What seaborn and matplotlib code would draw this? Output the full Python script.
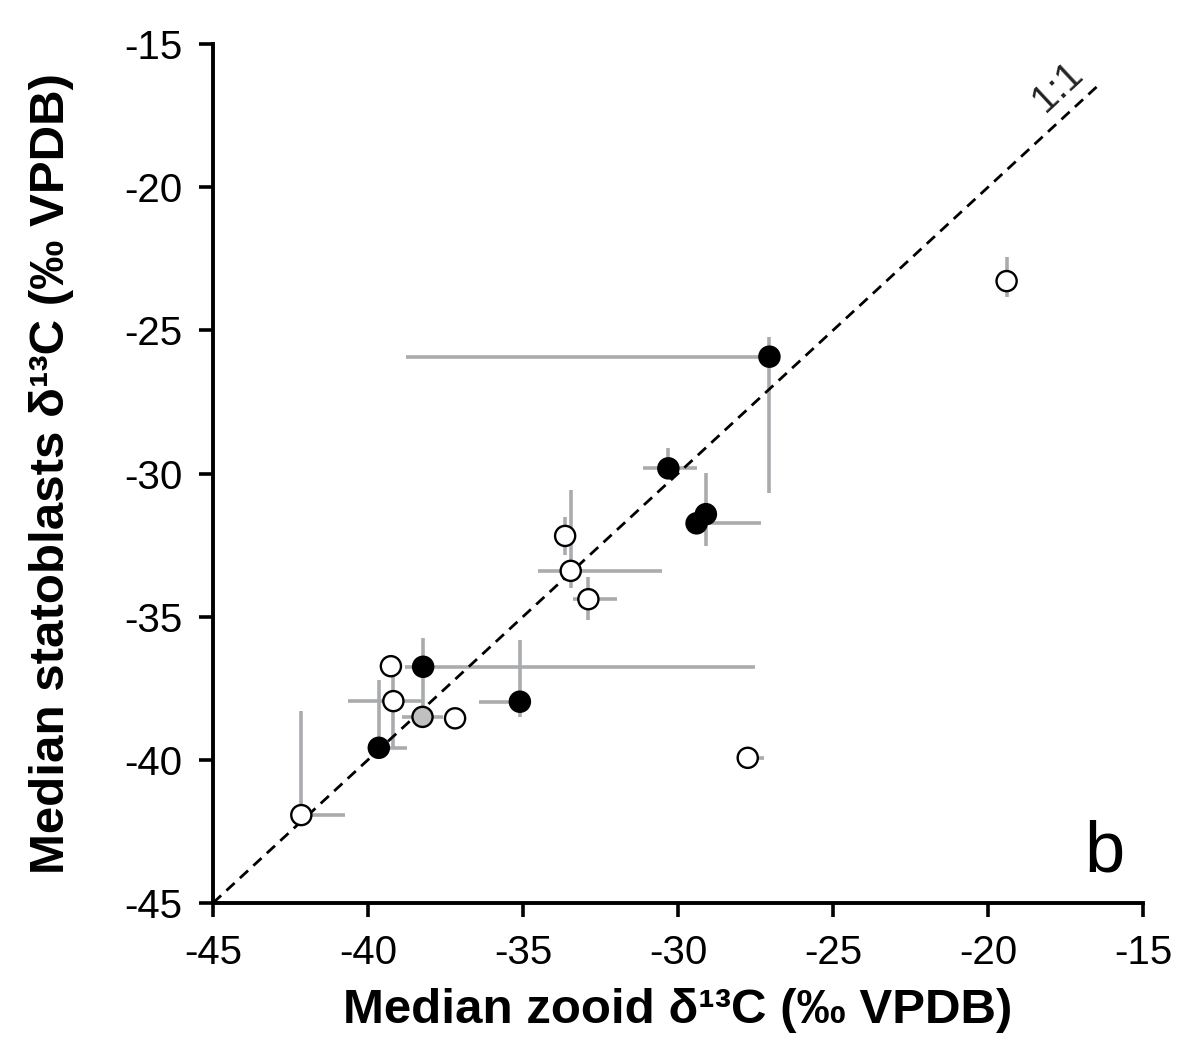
import numpy as np
import pandas as pd
import matplotlib
matplotlib.use("Agg")
import matplotlib.pyplot as plt
import seaborn as sns

# --------------------------------------------------------------
# data (medians + ranges, per mille VPDB)
# --------------------------------------------------------------
kind = ['open', 'filled', 'open', 'open', 'filled', 'gray', 'open', 'filled', 'open',
        'open', 'open', 'filled', 'filled', 'filled', 'filled', 'open', 'open']
zooid = [-42.15, -39.65, -39.18, -39.26, -38.22, -38.24, -37.19, -35.10, -33.64,
         -33.46, -32.89, -30.31, -29.10, -29.40, -27.05, -27.75, -19.40]
stato = [-41.93, -39.58, -37.95, -36.73, -36.75, -38.50, -38.55, -37.97, -32.18,
         -33.40, -34.39, -29.82, -31.42, -31.74, -25.92, -39.93, -23.28]
zooid_lo = [-42.20, -39.65, -40.65, -39.26, -38.80, -38.90, -37.19, -36.42, -33.64,
            -34.50, -33.38, -31.12, -29.10, -29.74, -38.77, -27.75, -19.40]
zooid_hi = [-40.75, -38.75, -38.27, -39.26, -27.50, -37.57, -37.19, -35.10, -33.64,
            -30.53, -31.98, -29.40, -29.10, -27.33, -27.05, -27.21, -19.40]
stato_lo = [-42.20, -39.60, -39.60, -36.73, -38.50, -38.50, -38.90, -38.50, -32.85,
            -34.00, -35.12, -29.88, -32.53, -31.74, -30.68, -39.93, -23.83]
stato_hi = [-38.30, -37.20, -36.80, -36.73, -35.75, -38.50, -38.30, -35.82, -31.51,
            -30.58, -33.60, -29.12, -29.99, -31.74, -25.22, -39.93, -22.43]

one_to_one = [-45, -16.4]
ticks = [-45, -40, -35, -30, -25, -20, -15]

df = pd.DataFrame({'kind': kind, 'zooid': zooid, 'stato': stato,
                   'zlo': zooid_lo, 'zhi': zooid_hi, 'slo': stato_lo, 'shi': stato_hi})

# --------------------------------------------------------------
# plot
# --------------------------------------------------------------
sns.set_style('white')
plt.rcParams['font.family'] = ['Liberation Sans', 'DejaVu Sans']
plt.rcParams['axes.unicode_minus'] = False
plt.rcParams['text.color'] = 'black'
plt.rcParams['axes.labelcolor'] = 'black'

fig = plt.figure(figsize=(11.91, 10.56), dpi=100)
ax = fig.add_axes([0.1788, 0.1449, 0.7809, 0.8134])

bar_col = '#a9abae'
ax.hlines(df['stato'], df['zlo'], df['zhi'], color=bar_col, lw=2.6, zorder=1)
ax.vlines(df['zooid'], df['slo'], df['shi'], color=bar_col, lw=2.6, zorder=1)

ax.plot(one_to_one, one_to_one, color='black', lw=2.0, ls=(0, (4, 2.6)), zorder=2)

sns.scatterplot(data=df, x='zooid', y='stato', hue='kind',
                palette={'filled': 'black', 'open': 'white', 'gray': '#c0c0c0'},
                s=210, edgecolor='black', linewidth=1.7, legend=False, ax=ax, zorder=3)

ax.set_xlim(-45, -15)
ax.set_ylim(-45, -15)
ax.set_xticks(ticks)
ax.set_yticks(ticks)
for side in ['top', 'right']:
    ax.spines[side].set_visible(False)
for side in ['left', 'bottom']:
    ax.spines[side].set_linewidth(2.8)
    ax.spines[side].set_color('black')
ax.tick_params(axis='both', which='major', direction='out', length=10, width=2.6,
               labelsize=29, colors='black', pad=12, left=True, bottom=True)

ax.set_xlabel('Median zooid δ¹³C (‰ VPDB)', fontsize=35.5, fontweight='bold', labelpad=12)
ax.set_ylabel('Median statoblasts δ¹³C (‰ VPDB)', fontsize=35.5, fontweight='bold', labelpad=36)

ax.text(-17.74, -16.5, '1:1', fontsize=28, rotation=43, ha='center', va='center', color='#222222')
ax.text(-16.23, -43.89, 'b', fontsize=52, ha='center', va='baseline')

fig.savefig('out.png', dpi=100)
